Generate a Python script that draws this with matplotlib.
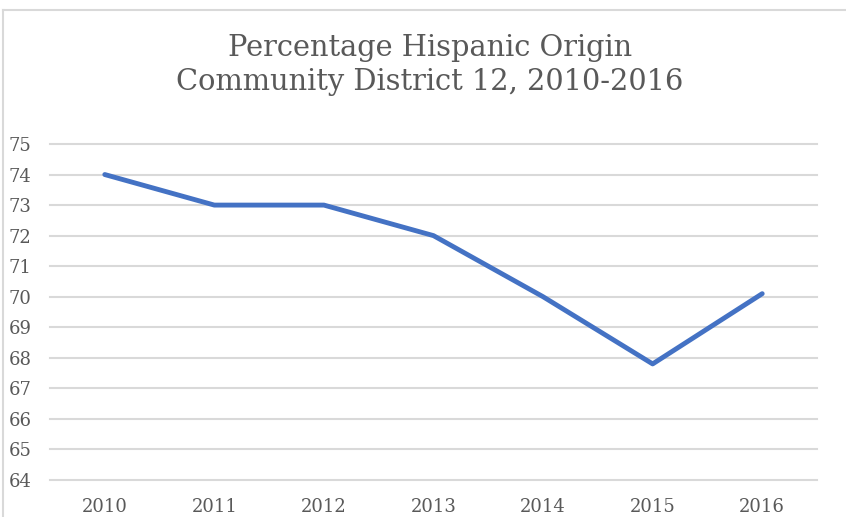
import matplotlib
matplotlib.use('Agg')
from matplotlib import pyplot as plt
from matplotlib.lines import Line2D

years = ['2010', '2011', '2012', '2013', '2014', '2015', '2016']
pct = [74.0, 73.0, 73.0, 72.0, 70.0, 67.8, 70.1]
y_ticks = list(range(64, 76))

plt.rcParams['font.family'] = ['DejaVu Serif']
text_color = '#595959'

fig = plt.figure(figsize=(8.46, 5.17), dpi=100)
ax = fig.add_axes([50/846, 1 - 480/517, (817 - 50)/846, (480 - 144)/517])

x = list(range(len(years)))
ax.plot(x, pct, color='#4472C4', linewidth=3.5, solid_capstyle='round',
        solid_joinstyle='round', zorder=3)

ax.set_xlim(-0.5, len(years) - 0.5)
ax.set_ylim(64, 75)
ax.set_yticks(y_ticks)
ax.set_yticklabels([str(v) for v in y_ticks])
ax.set_xticks(x)
ax.set_xticklabels(years)
ax.grid(True, axis='y', color='#D9D9D9', linewidth=1.5)
for g in ax.get_ygridlines():
    g.set_clip_on(False)
ax.set_axisbelow(True)
for s in ax.spines.values():
    s.set_visible(False)
ax.tick_params(length=0, labelsize=13, colors=text_color)
ax.tick_params(axis='y', pad=30)
ax.tick_params(axis='x', pad=13)
for lab in ax.get_yticklabels():
    lab.set_horizontalalignment('left')

fig.text(430/846, 1 - 65/517, 'Percentage Hispanic Origin\nCommunity District 12, 2010-2016',
         ha='center', va='center', fontsize=20.8, color=text_color, linespacing=1.3)

# outer chart frame (top and left edges visible)
fig.add_artist(Line2D([3/846, 1], [1 - 10/517, 1 - 10/517], transform=fig.transFigure,
                      color='#D9D9D9', linewidth=1.5))
fig.add_artist(Line2D([3/846, 3/846], [0, 1 - 10/517], transform=fig.transFigure,
                      color='#D9D9D9', linewidth=1.5))

fig.savefig('out.png', dpi=100)
